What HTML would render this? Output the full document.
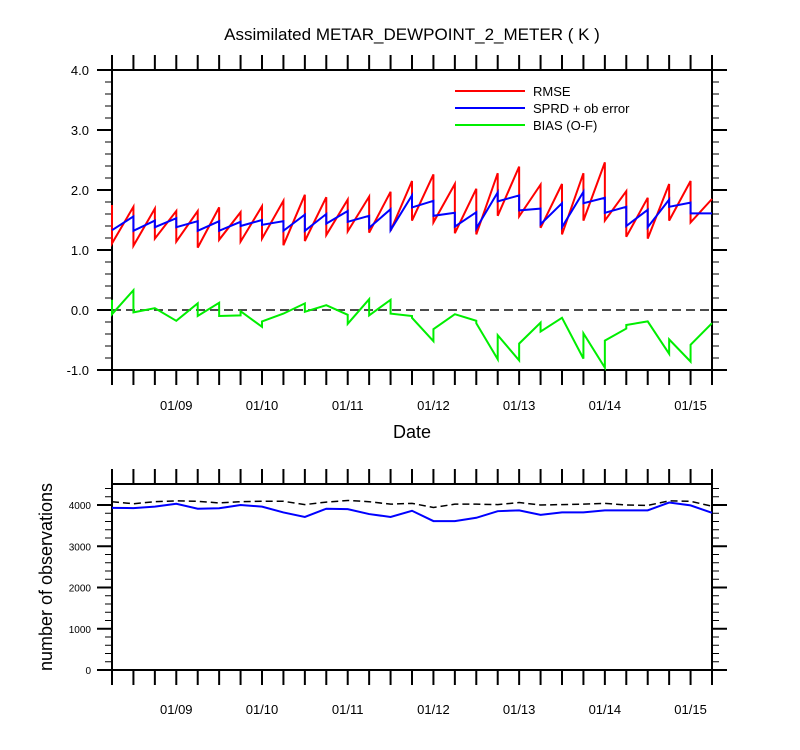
<!DOCTYPE html>
<html><head><meta charset="utf-8"><style>
body{margin:0;background:#fff}
svg{display:block;font-family:"Liberation Sans",Arial,sans-serif}
</style></head><body>
<svg id="c" width="800" height="750" xmlns="http://www.w3.org/2000/svg"></svg>
<script>
// ---- data ----
const dateLabels=["01/09","01/10","01/11","01/12","01/13","01/14","01/15"];
const topTicks=["4.0","3.0","2.0","1.0","0.0","-1.0"];
const topTickVals=[4,3,2,1,0,-1];
const botTicks=["4000","3000","2000","1000","0"];
const botTickVals=[4000,3000,2000,1000,0];
// forecast (prior) and analysis values at each 6h cycle, starting 01/08 06Z
const rmseF=[1.75,1.72,1.69,1.65,1.65,1.71,1.63,1.73,1.82,1.92,1.88,1.84,1.89,1.97,2.15,2.26,2.10,2.02,2.28,2.39,2.09,2.10,2.28,2.46,1.98,1.87,2.10,2.15,1.85];
const rmseA=[1.11,1.07,1.19,1.14,1.04,1.17,1.14,1.19,1.08,1.15,1.25,1.31,1.29,1.32,1.49,1.46,1.28,1.26,1.57,1.56,1.37,1.26,1.49,1.49,1.22,1.19,1.49,1.46,1.40];
const sprdF=[1.33,1.56,1.49,1.53,1.48,1.48,1.47,1.50,1.48,1.59,1.60,1.65,1.57,1.68,1.91,1.82,1.62,1.63,1.96,1.91,1.69,1.78,1.97,1.87,1.72,1.67,1.84,1.79,1.61];
const sprdA=[1.33,1.32,1.38,1.38,1.32,1.32,1.40,1.42,1.32,1.32,1.44,1.47,1.37,1.33,1.71,1.57,1.39,1.36,1.81,1.66,1.43,1.38,1.78,1.62,1.40,1.38,1.72,1.61,1.61];
const biasF=[0.17,0.33,0.03,-0.18,0.11,0.12,-0.09,-0.28,-0.06,0.11,0.08,-0.08,0.18,0.17,-0.10,-0.52,-0.07,-0.18,-0.82,-0.84,-0.21,-0.13,-0.81,-0.96,-0.31,-0.19,-0.73,-0.86,-0.22];
const biasA=[-0.07,-0.04,0.03,-0.18,-0.10,-0.10,-0.02,-0.19,-0.06,-0.03,0.08,-0.23,-0.09,-0.06,-0.13,-0.32,-0.07,-0.22,-0.42,-0.56,-0.36,-0.13,-0.39,-0.51,-0.25,-0.19,-0.49,-0.58,-0.22];
const obsUsed=[3930,3925,3960,4030,3910,3920,4000,3960,3820,3710,3910,3900,3780,3710,3860,3610,3610,3690,3850,3870,3760,3820,3820,3870,3870,3870,4060,3990,3810];
const obsAll=[4080,4030,4080,4100,4090,4050,4080,4090,4090,4010,4070,4110,4080,4020,4040,3940,4020,4020,4010,4060,4000,4010,4020,4040,4000,3990,4100,4090,3970];

const svg=document.getElementById('c');
const NS="http://www.w3.org/2000/svg";
function mk(t,a,p){const e=document.createElementNS(NS,t);for(const k in a)e.setAttribute(k,a[k]);(p||svg).appendChild(e);return e;}
const X0=112,X1=712,N=rmseF.length;
const xT=i=>X0+(X1-X0)*i/(N-1);
const yTop=v=>370-(v+1)*60;
const yBot=v=>670-v*0.04125;

function frame(top,bot,name){
  const r=mk('rect',{x:X0,y:top,width:X1-X0,height:bot-top,fill:'none',stroke:'#000','stroke-width':2});
  
  for(let i=0;i<N;i++){const x=xT(i);
    mk('line',{x1:x,x2:x,y1:top,y2:top-15,stroke:'#000','stroke-width':2});
    mk('line',{x1:x,x2:x,y1:bot,y2:bot+15,stroke:'#000','stroke-width':2});}
}
function dates(y,name){
  dateLabels.forEach((d,k)=>{const t=mk('text',{x:xT(3+4*k),y:y,'text-anchor':'middle','font-size':13});t.textContent=d;
    });
}
function sawPath(F,A,yf){
  let d='M'+xT(0)+','+yf(F[0])+'L'+xT(0)+','+yf(A[0]);
  for(let i=1;i<N;i++){d+='L'+xT(i)+','+yf(F[i]);if(i<N-1)d+='L'+xT(i)+','+yf(A[i]);}
  return d;
}
// title
let t=mk('text',{x:412,y:40,'text-anchor':'middle','font-size':17});t.textContent='Assimilated METAR_DEWPOINT_2_METER ( K )';


// top panel
frame(70,370,'top-panel');
for(let v=-1;v<=4.001;v+=0.2){const y=yTop(v);const maj=Math.abs(v-Math.round(v))<0.01;const L=maj?15:7;
  mk('line',{x1:X0,x2:X0-L,y1:y,y2:y,stroke:'#000','stroke-width':maj?2:1});
  mk('line',{x1:X1,x2:X1+L,y1:y,y2:y,stroke:'#000','stroke-width':maj?2:1});}
topTicks.forEach((s,k)=>{const e=mk('text',{x:89,y:yTop(topTickVals[k])+5,'text-anchor':'end','font-size':13});e.textContent=s;
  });
mk('line',{x1:X0,x2:X1,y1:yTop(0),y2:yTop(0),stroke:'#333','stroke-width':1.8,'stroke-dasharray':'9,5'});
const series=[[rmseF,rmseA,'#ff0000','rmse-line'],[sprdF,sprdA,'#0000ff','spread-line'],[biasF,biasA,'#00ee00','bias-line']];
series.forEach(s=>{const p=mk('path',{d:sawPath(s[0],s[1],yTop),fill:'none',stroke:s[2],'stroke-width':2,'stroke-linejoin':'miter'});
  });
dates(410,'top');
t=mk('text',{x:412,y:438,'text-anchor':'middle','font-size':18});t.textContent='Date';

// legend
const leg=[['RMSE','#ff0000',96],['SPRD + ob error','#0000ff',113],['BIAS (O-F)','#00ee00',130]];
leg.forEach(l=>{const g=mk('g',{});
  mk('line',{x1:455,x2:525,y1:l[2]-5,y2:l[2]-5,stroke:l[1],'stroke-width':2},g);
  const e=mk('text',{x:533,y:l[2],'font-size':13},g);e.textContent=l[0];});

// bottom panel
frame(484,670,'bottom-panel');
for(let v=0;v<=4500;v+=200){const y=yBot(v);const maj=v%1000===0;const L=maj?15:7;
  mk('line',{x1:X0,x2:X0-L,y1:y,y2:y,stroke:'#000','stroke-width':maj?2:1});
  mk('line',{x1:X1,x2:X1+L,y1:y,y2:y,stroke:'#000','stroke-width':maj?2:1});}
botTicks.forEach((s,k)=>{const e=mk('text',{x:91,y:yBot(botTickVals[k])+4,'text-anchor':'end','font-size':10});e.textContent=s;
  });
function line(arr,yf){return arr.map((v,i)=>(i?'L':'M')+xT(i)+','+yf(v)).join('');}
let p=mk('path',{d:line(obsAll,yBot),fill:'none',stroke:'#000','stroke-width':1.5,'stroke-dasharray':'7,4'});

p=mk('path',{d:line(obsUsed,yBot),fill:'none',stroke:'#0000ff','stroke-width':2});

dates(714,'bottom');
t=mk('text',{x:0,y:0,'text-anchor':'middle','font-size':18,transform:'translate(52,577) rotate(-90)'});t.textContent='number of observations';

</script>
</body></html>
